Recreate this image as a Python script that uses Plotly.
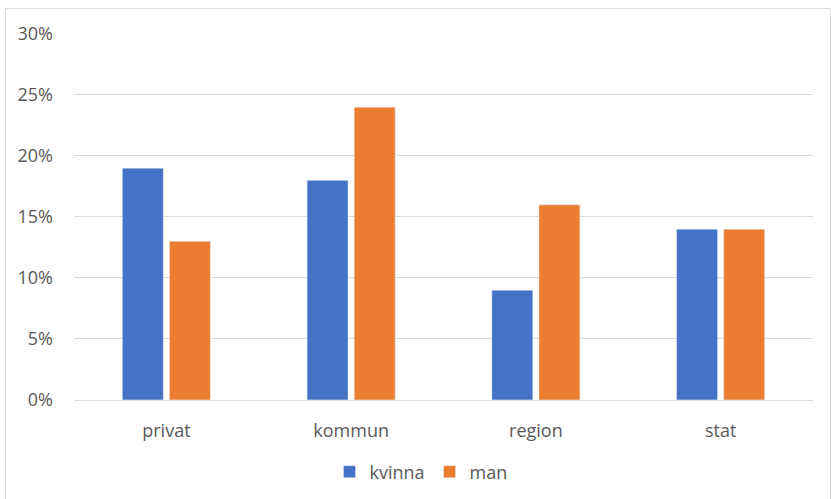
import plotly.graph_objects as go

categories = ["privat", "kommun", "region", "stat"]
kvinna = [0.19, 0.18, 0.09, 0.14]
man = [0.13, 0.24, 0.16, 0.14]
y_ticks = [0, 0.05, 0.10, 0.15, 0.20, 0.25, 0.30]
y_tick_labels = ["0%", "5%", "10%", "15%", "20%", "25%", "30%"]

font_family = "Open Sans, Liberation Sans, sans-serif"
text_color = "#595959"

fig = go.Figure()
fig.add_trace(go.Bar(name="kvinna", x=categories, y=kvinna, marker_color="#4472C4"))
fig.add_trace(go.Bar(name="man", x=categories, y=man, marker_color="#ED7D31"))

L, R, T, B = 74, 18, 34, 98
W, H = 831, 499
pw, ph = W - L - R, H - T - B
bottom_px = H - B

fig.update_layout(
    width=W, height=H,
    margin=dict(l=L, r=R, t=T, b=B, pad=0),
    paper_bgcolor="white", plot_bgcolor="white",
    barmode="group", bargap=0.49, bargroupgap=0.13,
    font=dict(family=font_family, size=18, color=text_color),
    legend=dict(orientation="h", xref="container", yref="container",
                x=421 / W, xanchor="center", y=1 - 472 / H, yanchor="middle",
                font=dict(size=18, color=text_color),
                itemwidth=30, traceorder="normal"),
    xaxis=dict(showgrid=False, showline=True, linecolor="#d9d9d9", linewidth=1,
               ticks="", ticklabelstandoff=14, tickfont=dict(size=18, color=text_color)),
    yaxis=dict(range=[0, 0.30], tickvals=y_ticks, ticktext=y_tick_labels,
               showgrid=True, gridcolor="#d9d9d9", gridwidth=1, zeroline=False,
               showline=False, ticks="", ticklabelstandoff=20,
               tickfont=dict(size=18, color=text_color)),
    shapes=[dict(type="rect", xref="paper", yref="paper",
                 x0=(5.5 - L) / pw, x1=(830.5 - L) / pw,
                 y0=(bottom_px - 515) / ph, y1=(bottom_px - 8.5) / ph,
                 line=dict(color="#d9d9d9", width=1), fillcolor="rgba(0,0,0,0)", layer="below")],
)

fig.write_html("out.html",
               config={"displayModeBar": False},
               post_script="document.body.style.margin='0';document.body.style.overflow='hidden';")
